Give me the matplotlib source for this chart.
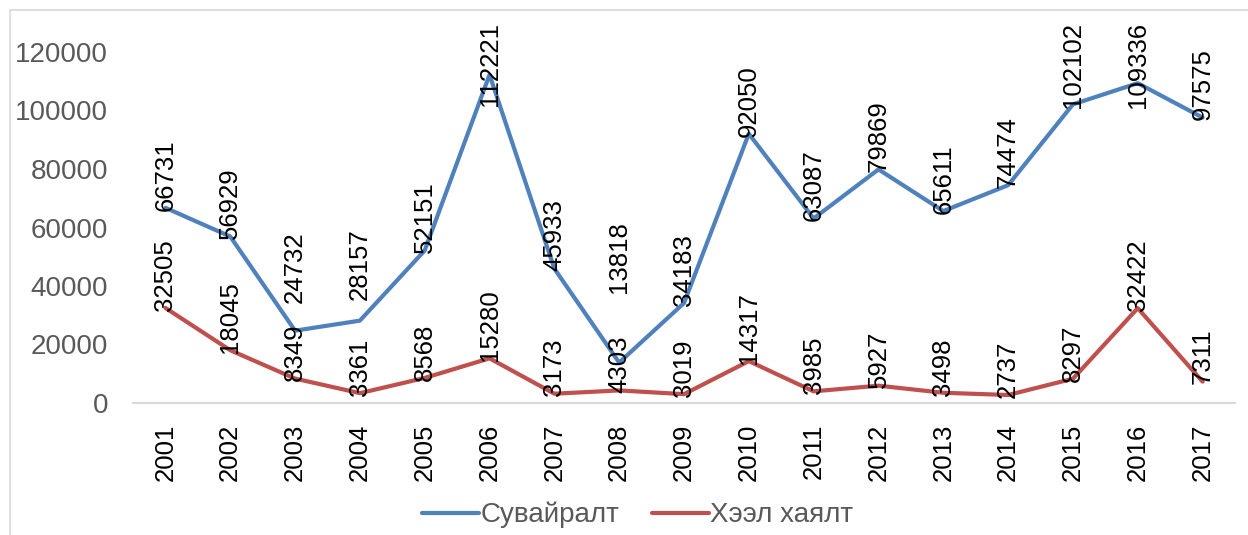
import matplotlib
matplotlib.use("Agg")
import matplotlib.pyplot as plt
from matplotlib.patches import Rectangle

plt.rcParams['font.family'] = ['Liberation Sans', 'DejaVu Sans']

years = [str(y) for y in range(2001, 2018)]
suvairalt = [66731, 56929, 24732, 28157, 52151, 112221, 45933, 13818, 34183,
             92050, 63087, 79869, 65611, 74474, 102102, 109336, 97575]
heel_hayalt = [32505, 18045, 8349, 3361, 8568, 15280, 3173, 4303, 3019,
               14317, 3985, 5927, 3498, 2737, 8297, 32422, 7311]

BLUE = '#4F81BD'
RED = '#C0504D'
GREY = '#595959'

W, H, DPI = 1248, 535, 100
fig = plt.figure(figsize=(W / DPI, H / DPI), dpi=DPI)
ax = fig.add_axes([133 / W, 1 - 403 / H, (1235 - 133) / W, (403 - 52) / H])

x = list(range(len(years)))
ax.plot(x, suvairalt, color=BLUE, lw=3, label='Сувайралт', solid_capstyle='round')
ax.plot(x, heel_hayalt, color=RED, lw=3, label='Хээл хаялт', solid_capstyle='round')

ax.set_xlim(-0.5, len(years) - 0.5)
ax.set_ylim(0, 120000)
ax.set_yticks(range(0, 120001, 20000))
ax.set_xticks(x)
ax.set_xticklabels(years, rotation=90)
ax.tick_params(axis='y', length=0, pad=18, labelsize=20, labelcolor=GREY)
ax.tick_params(axis='x', length=0, pad=15, labelsize=18.5, labelcolor='black')
for s in ['top', 'right', 'left']:
    ax.spines[s].set_visible(False)
ax.spines['bottom'].set_color('#D9D9D9')
ax.spines['bottom'].set_linewidth(1.5)

# labels nudged by hand in the original so they don't overlap (points)
blue_nudge = {2: 22, 3: 17, 7: 52}

labels = []
for i, v in enumerate(suvairalt):
    t = ax.annotate(str(v), (i, v), xytext=(0, -2 + blue_nudge.get(i, 0)),
                    textcoords='offset points', rotation=90, ha='center',
                    va='bottom', fontsize=18.5, annotation_clip=False)
    labels.append(t)
for i, v in enumerate(heel_hayalt):
    t = ax.annotate(str(v), (i, v), xytext=(0, -2), textcoords='offset points',
                    rotation=90, ha='center', va='bottom', fontsize=18.5,
                    annotation_clip=False)
    labels.append(t)

# keep labels inside the chart area, like Excel does
fig.canvas.draw()
r = fig.canvas.get_renderer()
lim = H - 22
for t in labels:
    bb = t.get_window_extent(r)
    if bb.y1 > lim:
        dx, dy = t.xyann
        t.xyann = (dx, dy - (bb.y1 - lim) * 72 / DPI)

fig.legend(loc='center', bbox_to_anchor=(0.511, 1 - 515 / H), ncol=2,
           frameon=False, fontsize=20, handlelength=2.05, handletextpad=0.05,
           columnspacing=1.15, labelcolor=GREY)

fig.add_artist(Rectangle((10 / W, -0.1), 2, 1 - 10 / H + 0.1,
                         transform=fig.transFigure, fill=False,
                         ec='#D9D9D9', lw=1.2))

fig.savefig('out.png', dpi=DPI)
